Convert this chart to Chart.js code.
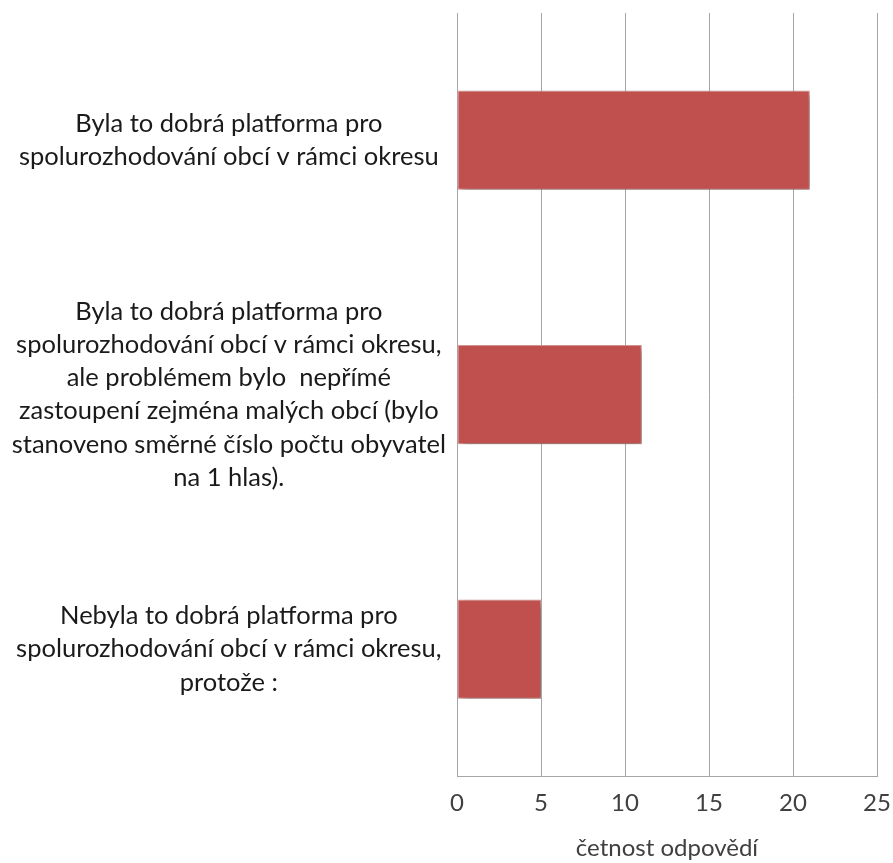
<!DOCTYPE html>
<html>
<head>
<meta charset="utf-8">
<title>četnost odpovědí</title>
<style>
    html, body { margin: 0; padding: 0; background: #fff; }
    #wrap { width: 893px; height: 863px; }
</style>
</head>
<body>
<div id="wrap">
    <canvas id="myChart" width="893" height="863"></canvas>
</div>

<script src="https://cdn.jsdelivr.net/npm/chart.js"></script>
<script>
    // categories, top to bottom
    const categories = [
        ['Byla to dobrá platforma pro', 'spolurozhodování obcí v rámci okresu'],
        ['Byla to dobrá platforma pro', 'spolurozhodování obcí v rámci okresu,', 'ale problémem bylo  nepřímé', 'zastoupení zejména malých obcí (bylo', 'stanoveno směrné číslo počtu obyvatel', 'na 1 hlas).'],
        ['Nebyla to dobrá platforma pro', 'spolurozhodování obcí v rámci okresu,', 'protože :']
    ];
    const counts = [21, 11, 5];
    const axisMin = 0;
    const axisMax = 25;
    const axisStep = 5;
    const axisTitle = 'četnost odpovědí';

    const barShadow = {
        id: 'barShadow',
        beforeDatasetsDraw(chart) {
            const c = chart.ctx;
            c.save();
            c.shadowColor = 'rgba(0, 0, 0, 0.4)';
            c.shadowBlur = 7;
            c.shadowOffsetX = 3;
            c.shadowOffsetY = 3;
        },
        afterDatasetsDraw(chart) {
            chart.ctx.restore();
        }
    };

    const ctx = document.getElementById('myChart');

    new Chart(ctx, {
        type: 'bar',
        data: {
            labels: categories,
            datasets: [
                {
                    label: axisTitle,
                    data: counts,
                    backgroundColor: '#C0504D',
                    borderColor: '#DA9A98',
                    borderWidth: 1,
                    borderSkipped: false,
                    categoryPercentage: 1,
                    barPercentage: 0.39
                }
            ]
        },
        plugins: [barShadow],
        options: {
            indexAxis: 'y',
            responsive: false,
            animation: false,
            layout: {
                padding: { top: 13, right: 16, left: 0, bottom: 0 }
            },
            plugins: {
                legend: { display: false },
                tooltip: { enabled: false }
            },
            scales: {
                x: {
                    min: axisMin,
                    max: axisMax,
                    ticks: {
                        stepSize: axisStep,
                        padding: 12,
                        color: '#404040',
                        font: { family: 'Lato', size: 24 }
                    },
                    grid: {
                        color: '#A6A6A6',
                        lineWidth: 1,
                        drawTicks: false
                    },
                    border: { color: '#A6A6A6' },
                    title: {
                        display: true,
                        text: axisTitle,
                        color: '#404040',
                        padding: { top: 5, bottom: 0 },
                        font: { family: 'Lato', size: 24 }
                    },
                    afterFit(scale) {
                        scale.paddingLeft = 0;
                        scale.paddingRight = 0;
                    }
                },
                y: {
                    grid: { display: false },
                    border: { color: '#A6A6A6' },
                    ticks: {
                        crossAlign: 'center',
                        color: '#1A1A1A',
                        font: { family: 'Lato', size: 25.5, lineHeight: 1.3 }
                    },
                    afterFit(scale) {
                        scale.width = 457;
                        scale.paddingTop = 0;
                        scale.paddingBottom = 0;
                    }
                }
            }
        }
    });
</script>
</body>
</html>
